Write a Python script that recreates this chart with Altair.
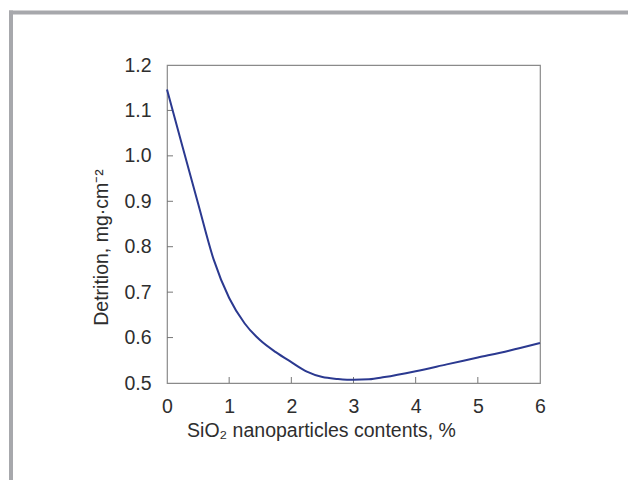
import altair as alt
import pandas as pd

# Data
x_vals = [0, 0.25, 0.5, 0.75, 1.0, 1.25, 1.5, 1.75, 2.0, 2.25, 2.5, 2.75,
          3.0, 3.25, 3.5, 4.0, 4.5, 5.0, 5.5, 6.0]
y_vals = [1.146, 1.02, 0.895, 0.772, 0.687, 0.631, 0.594, 0.568, 0.546, 0.525,
          0.513, 0.509, 0.507, 0.508, 0.513, 0.526, 0.541, 0.556, 0.571, 0.588]
x_ticks = [1, 2, 3, 4, 5]
y_ticks = [0.6, 0.7, 0.8, 0.9, 1.0, 1.1]

df = pd.DataFrame({"x": x_vals, "y": y_vals})
df_xt = pd.DataFrame({"xt": x_ticks})
df_yt = pd.DataFrame({"yt": y_ticks})

W, H = 373, 318
FONT = "Liberation Sans"
TXT = "#2e2e2e"
GRAY = "#a7a8ac"
FS = 19.5

xscale = alt.Scale(domain=[0, 6], nice=False, zero=False)
yscale = alt.Scale(domain=[0.5, 1.2], nice=False, zero=False)

line = alt.Chart(df).mark_line(color="#2b3990", strokeWidth=2, interpolate="monotone").encode(
    x=alt.X("x:Q", scale=xscale,
            axis=alt.Axis(values=[0, 1, 2, 3, 4, 5, 6], format="d", ticks=False, domain=False,
                          grid=False, labelPadding=14, labelFontSize=FS, labelFont=FONT,
                          labelColor=TXT, labelFlush=False,
                          title="SiO₂ nanoparticles contents, %", titleFont=FONT,
                          titleFontSize=FS, titleFontWeight="normal", titleColor=TXT,
                          titleX=154, titleY=53, titleBaseline="alphabetic",
                          titleAlign="center")),
    y=alt.Y("y:Q", scale=yscale,
            axis=alt.Axis(values=[0.5, 0.6, 0.7, 0.8, 0.9, 1.0, 1.1, 1.2], format=".1f",
                          ticks=False, domain=False, grid=False, labelPadding=16,
                          labelFontSize=FS, labelFont=FONT, labelColor=TXT, labelFlush=False,
                          title="Detrition, mg·cm⁻²", titleFont=FONT, titleFontSize=FS,
                          titleFontWeight="normal", titleColor=TXT,
                          titleX=-66, titleY=182, titleBaseline="middle",
                          titleAlign="center")),
)

xt = alt.Chart(df_xt).mark_rule(color="#777777", strokeWidth=1).encode(
    x=alt.X("xt:Q", scale=xscale), y=alt.value(H), y2=alt.value(H - 6)
)
yt = alt.Chart(df_yt).mark_rule(color="#777777", strokeWidth=1).encode(
    y=alt.Y("yt:Q", scale=yscale), x=alt.value(0), x2=alt.value(6)
)

frame_top = alt.Chart(pd.DataFrame({"a": [0]})).mark_rule(color=GRAY, strokeWidth=4).encode(
    x=alt.value(-158), x2=alt.value(470), y=alt.value(-52.5)
)
frame_left = alt.Chart(pd.DataFrame({"a": [0]})).mark_rule(color=GRAY, strokeWidth=4).encode(
    x=alt.value(-156), y=alt.value(-54.5), y2=alt.value(430)
)

chart = alt.layer(frame_top, frame_left, xt, yt, line).properties(
    width=W, height=H,
    autosize="none",
    padding={"left": 159, "top": 57, "right": 88, "bottom": 97},
    background="white",
).configure_view(stroke="#8a8a8a", strokeWidth=1.2)

chart.save("out.html", embed_options={"renderer": "svg", "actions": False})
